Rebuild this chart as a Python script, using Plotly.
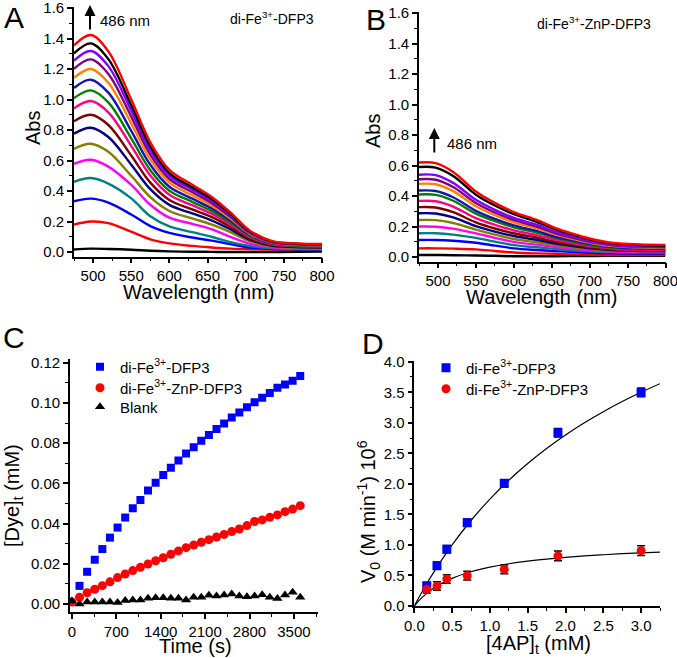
import plotly.graph_objects as go

FONT = "Liberation Sans, Arial, sans-serif"
W, H = 677, 658

# ---------------- Panel A / B : spectra ----------------
WL = [475, 497, 520, 550, 575, 600, 630, 655, 680, 705, 735, 765, 800]
SPEC_COLORS = ["#000000", "#FF0000", "#0000FF", "#008080", "#FF00FF", "#808000",
               "#000080", "#800000", "#FF0080", "#008000", "#1515B0", "#FF8000",
               "#800080", "#8000FF", "#000000", "#FF0000"]

A_c01 = [0.017, 0.022, 0.020, 0.015, 0.008, 0.004, 0.002, 0.001, 0.000, 0.000, 0.000, 0.002, 0.003]
A_c02 = [0.18, 0.20, 0.19, 0.133, 0.083, 0.057, 0.04, 0.03, 0.022, 0.018, 0.016, 0.015, 0.015]
A_c03 = [0.333, 0.35, 0.324, 0.246, 0.17, 0.125, 0.095, 0.075, 0.052, 0.03, 0.02, 0.017, 0.016]
A_c04 = [0.46, 0.485, 0.449, 0.352, 0.235, 0.168, 0.13, 0.10, 0.065, 0.04, 0.024, 0.02, 0.019]
A_c05 = [0.578, 0.605, 0.56, 0.44, 0.31, 0.225, 0.185, 0.15, 0.10, 0.055, 0.03, 0.024, 0.022]
A_c06 = [0.676, 0.71, 0.657, 0.50, 0.36, 0.269, 0.22, 0.181, 0.13, 0.071, 0.036, 0.028, 0.026]
A_c07 = [0.776, 0.815, 0.754, 0.573, 0.412, 0.309, 0.253, 0.208, 0.149, 0.082, 0.041, 0.033, 0.030]
A_c08 = [0.857, 0.90, 0.833, 0.633, 0.455, 0.341, 0.279, 0.23, 0.165, 0.09, 0.045, 0.036, 0.033]
A_c09 = [0.942, 0.99, 0.916, 0.696, 0.501, 0.375, 0.307, 0.252, 0.181, 0.099, 0.05, 0.04, 0.037]
A_c10 = [1.009, 1.06, 0.981, 0.745, 0.536, 0.402, 0.329, 0.27, 0.194, 0.106, 0.053, 0.042, 0.039]
A_c11 = [1.076, 1.13, 1.045, 0.794, 0.572, 0.428, 0.35, 0.288, 0.207, 0.113, 0.057, 0.045, 0.042]
A_c12 = [1.142, 1.20, 1.11, 0.844, 0.607, 0.455, 0.372, 0.306, 0.22, 0.12, 0.06, 0.048, 0.044]
A_c13 = [1.202, 1.263, 1.168, 0.888, 0.639, 0.479, 0.392, 0.322, 0.231, 0.126, 0.063, 0.051, 0.047]
A_c14 = [1.255, 1.318, 1.219, 0.927, 0.667, 0.50, 0.409, 0.336, 0.241, 0.132, 0.066, 0.053, 0.049]
A_c15 = [1.302, 1.368, 1.265, 0.962, 0.692, 0.518, 0.424, 0.349, 0.25, 0.137, 0.068, 0.055, 0.051]
A_c16 = [1.355, 1.423, 1.316, 1.0, 0.72, 0.539, 0.441, 0.363, 0.26, 0.142, 0.071, 0.057, 0.053]
A_SPECTRA = [A_c01, A_c02, A_c03, A_c04, A_c05, A_c06, A_c07, A_c08,
             A_c09, A_c10, A_c11, A_c12, A_c13, A_c14, A_c15, A_c16]

B_c01 = [0.013, 0.013, 0.012, 0.010, 0.008, 0.005, 0.005, 0.005, 0.006, 0.007, 0.008, 0.008, 0.008]
B_c02 = [0.057, 0.057, 0.055, 0.05, 0.04, 0.03, 0.024, 0.021, 0.017, 0.015, 0.013, 0.013, 0.013]
B_c03 = [0.112, 0.112, 0.107, 0.094, 0.075, 0.057, 0.046, 0.039, 0.032, 0.027, 0.024, 0.023, 0.022]
B_c04 = [0.156, 0.156, 0.147, 0.126, 0.101, 0.078, 0.064, 0.053, 0.043, 0.036, 0.031, 0.029, 0.029]
B_c05 = [0.20, 0.199, 0.186, 0.155, 0.126, 0.099, 0.081, 0.066, 0.053, 0.043, 0.036, 0.034, 0.034]
B_c06 = [0.243, 0.242, 0.223, 0.180, 0.147, 0.118, 0.097, 0.078, 0.062, 0.050, 0.041, 0.038, 0.037]
B_c07 = [0.287, 0.285, 0.26, 0.203, 0.167, 0.138, 0.113, 0.089, 0.071, 0.055, 0.044, 0.040, 0.039]
B_c08 = [0.327, 0.325, 0.294, 0.227, 0.187, 0.156, 0.128, 0.10, 0.079, 0.06, 0.047, 0.044, 0.042]
B_c09 = [0.368, 0.366, 0.331, 0.255, 0.211, 0.175, 0.144, 0.113, 0.089, 0.068, 0.053, 0.049, 0.047]
B_c10 = [0.41, 0.408, 0.369, 0.285, 0.235, 0.195, 0.161, 0.125, 0.099, 0.076, 0.059, 0.055, 0.053]
B_c11 = [0.436, 0.433, 0.392, 0.303, 0.25, 0.208, 0.171, 0.133, 0.106, 0.081, 0.063, 0.058, 0.056]
B_c12 = [0.48, 0.477, 0.432, 0.333, 0.275, 0.228, 0.188, 0.147, 0.116, 0.089, 0.07, 0.064, 0.062]
B_c13 = [0.51, 0.507, 0.459, 0.354, 0.292, 0.243, 0.2, 0.156, 0.123, 0.094, 0.074, 0.068, 0.066]
B_c14 = [0.54, 0.537, 0.486, 0.375, 0.309, 0.257, 0.212, 0.165, 0.131, 0.10, 0.078, 0.072, 0.07]
B_c15 = [0.59, 0.586, 0.531, 0.409, 0.338, 0.281, 0.231, 0.181, 0.143, 0.109, 0.086, 0.079, 0.076]
B_c16 = [0.62, 0.616, 0.558, 0.43, 0.355, 0.295, 0.243, 0.19, 0.15, 0.115, 0.09, 0.083, 0.08]
B_SPECTRA = [B_c01, B_c02, B_c03, B_c04, B_c05, B_c06, B_c07, B_c08,
             B_c09, B_c10, B_c11, B_c12, B_c13, B_c14, B_c15, B_c16]

# ---------------- Panel C : dye vs time ----------------
T_BLUE = [120, 240, 360, 480, 600, 720, 840, 960, 1080, 1200, 1320, 1440, 1560, 1680, 1800,
          1920, 2040, 2160, 2280, 2400, 2520, 2640, 2760, 2880, 3000, 3120, 3240, 3360, 3480, 3600]
DYE_FE = [0.009, 0.016, 0.022, 0.0273, 0.033, 0.038, 0.043, 0.0476, 0.0517, 0.0564, 0.0603,
          0.0641, 0.0678, 0.0713, 0.0749, 0.0779, 0.0812, 0.084, 0.087, 0.0898, 0.0927, 0.0953,
          0.0978, 0.1003, 0.1026, 0.105, 0.1076, 0.1092, 0.111, 0.1134]
T_ALL = [0, 120, 240, 360, 480, 600, 720, 840, 960, 1080, 1200, 1320, 1440, 1560, 1680, 1800,
         1920, 2040, 2160, 2280, 2400, 2520, 2640, 2760, 2880, 3000, 3120, 3240, 3360, 3480, 3600]
DYE_ZNP = [0.001, 0.0033, 0.0056, 0.0073, 0.0091, 0.011, 0.0131, 0.0149, 0.0166, 0.0182, 0.0199,
           0.0215, 0.023, 0.0247, 0.0264, 0.028, 0.0293, 0.0307, 0.032, 0.0333, 0.0346, 0.036,
           0.0373, 0.039, 0.041, 0.0418, 0.0431, 0.0443, 0.0459, 0.0472, 0.0489]
DYE_BLANK = [0.0015, 0.000, 0.001, 0.001, 0.001, 0.001, 0.0007, 0.0017, 0.002, 0.002, 0.0028,
             0.0031, 0.0031, 0.0028, 0.0028, 0.002, 0.0033, 0.0033, 0.0043, 0.004, 0.0045, 0.005,
             0.004, 0.0036, 0.004, 0.0046, 0.0033, 0.0027, 0.0045, 0.0058, 0.0033]

# ---------------- Panel D : initial rate vs [4AP] ----------------
AP_CONC = [0.165, 0.30, 0.43, 0.70, 1.19, 1.90, 3.00]
V0_FE = [0.333, 0.66, 0.93, 1.364, 2.008, 2.838, 3.498]
V0_FE_ERR = [0.05, 0.06, 0.06, 0.06, 0.06, 0.07, 0.07]
V0_ZNP = [0.273, 0.327, 0.442, 0.497, 0.60, 0.819, 0.906]
V0_ZNP_ERR = [0.06, 0.07, 0.07, 0.07, 0.07, 0.08, 0.08]
FIT_X = [0.0, 0.1, 0.25, 0.5, 0.75, 1.0, 1.25, 1.5, 1.75, 2.0, 2.25, 2.5, 2.75, 3.0, 3.25]
FIT_FE = [0.0, 0.226, 0.538, 1.0, 1.4, 1.75, 2.059, 2.333, 2.579, 2.8, 3.0, 3.182, 3.348, 3.5, 3.64]
FIT_ZNP = [0.0, 0.137, 0.288, 0.453, 0.561, 0.636, 0.692, 0.735, 0.769, 0.797, 0.820, 0.839,
           0.856, 0.870, 0.882]


def px_x(p):
    return p / W


def px_y(p):
    return 1 - p / H


fig = go.Figure()

for spectrum, col in zip(A_SPECTRA, SPEC_COLORS):
    fig.add_trace(go.Scatter(x=WL, y=spectrum, mode="lines", xaxis="x", yaxis="y",
                             line=dict(color=col, width=2.4, shape="spline", smoothing=1.0),
                             showlegend=False, hoverinfo="skip"))
for spectrum, col in zip(B_SPECTRA, SPEC_COLORS):
    fig.add_trace(go.Scatter(x=WL, y=spectrum, mode="lines", xaxis="x2", yaxis="y2",
                             line=dict(color=col, width=2.4, shape="spline", smoothing=1.0),
                             showlegend=False, hoverinfo="skip"))

fig.add_trace(go.Scatter(x=T_BLUE, y=DYE_FE, mode="markers", xaxis="x3", yaxis="y3",
                         name="di-Fe<sup>3+</sup>-DFP3", legend="legend2",
                         marker=dict(symbol="square", size=8, color="#0000FF")))
fig.add_trace(go.Scatter(x=T_ALL, y=DYE_ZNP, mode="markers", xaxis="x3", yaxis="y3",
                         name="di-Fe<sup>3+</sup>-ZnP-DFP3", legend="legend3",
                         marker=dict(symbol="circle", size=9, color="#FF0000")))
fig.add_trace(go.Scatter(x=T_ALL, y=DYE_BLANK, mode="markers", xaxis="x3", yaxis="y3",
                         name="Blank", legend="legend4",
                         marker=dict(symbol="triangle-up", size=9, color="#000000")))

fig.add_trace(go.Scatter(x=FIT_X, y=FIT_FE, mode="lines", xaxis="x4", yaxis="y4",
                         line=dict(color="black", width=1.2, shape="spline"),
                         showlegend=False, hoverinfo="skip"))
fig.add_trace(go.Scatter(x=FIT_X, y=FIT_ZNP, mode="lines", xaxis="x4", yaxis="y4",
                         line=dict(color="black", width=1.2, shape="spline"),
                         showlegend=False, hoverinfo="skip"))
fig.add_trace(go.Scatter(x=AP_CONC, y=V0_FE, mode="markers", xaxis="x4", yaxis="y4",
                         name="di-Fe<sup>3+</sup>-DFP3", legend="legend5",
                         error_y=dict(type="data", array=V0_FE_ERR, color="black",
                                      thickness=1.5, width=4),
                         marker=dict(symbol="square", size=9, color="#0000FF")))
fig.add_trace(go.Scatter(x=AP_CONC, y=V0_ZNP, mode="markers", xaxis="x4", yaxis="y4",
                         name="di-Fe<sup>3+</sup>-ZnP-DFP3", legend="legend6",
                         error_y=dict(type="data", array=V0_ZNP_ERR, color="black",
                                      thickness=1.5, width=4),
                         marker=dict(symbol="circle", size=9, color="#FF0000")))


def axis(domain, rng, dtick, minor_dtick, fmt, anchor, tick0=0):
    return dict(domain=domain, range=rng, anchor=anchor, tickmode="linear", tick0=tick0,
                dtick=dtick, tickformat=fmt, showline=True, linecolor="black", linewidth=1.6,
                ticks="outside", ticklen=5, tickwidth=1.5, tickcolor="black",
                showgrid=False, zeroline=False, automargin=False, ticklabeloverflow="allow",
                tickfont=dict(family=FONT, size=15, color="black"),
                minor=dict(ticks="outside", ticklen=3, tickwidth=1.3, tickcolor="black",
                           dtick=minor_dtick, tick0=tick0, showgrid=False))


def legend_at(x, y):
    return dict(x=px_x(x), y=px_y(y), xanchor="left", yanchor="middle",
                bgcolor="rgba(0,0,0,0)", borderwidth=0,
                font=dict(family=FONT, size=15, color="black"))


layout = dict(
    width=W, height=H, margin=dict(l=0, r=0, t=0, b=0, autoexpand=False),
    paper_bgcolor="white", plot_bgcolor="white",
    font=dict(family=FONT, color="black"),
    xaxis=axis([px_x(74), px_x(322)], [475, 800], 50, 25, "d", "y"),
    yaxis=axis([px_y(256.6), px_y(6.5)], [-0.03, 1.61], 0.2, 0.1, ".1f", "x"),
    xaxis2=axis([px_x(419), px_x(665.5)], [475, 800], 50, 25, "d", "y2"),
    yaxis2=axis([px_y(261.6), px_y(11.5)], [-0.03, 1.61], 0.2, 0.1, ".1f", "x2"),
    xaxis3=axis([px_x(70), px_x(318)], [-30, 3880], 700, 350, "d", "y3"),
    yaxis3=axis([px_y(612), px_y(358.7)], [-0.004, 0.122], 0.02, 0.01, ".2f", "x3"),
    xaxis4=axis([px_x(414.3), px_x(660)], [0, 3.25], 0.5, 0.25, ".1f", "y4"),
    yaxis4=axis([px_y(606), px_y(360.5)], [0, 4.02], 0.5, 0.25, ".1f", "x4"),
    legend2=legend_at(80, 367),
    legend3=legend_at(80, 388),
    legend4=legend_at(80, 407),
    legend5=legend_at(426, 368),
    legend6=legend_at(426, 389),
)

ann = []


def text(x, y, s, size, xanchor="center", angle=0):
    ann.append(dict(x=px_x(x), y=px_y(y), xref="paper", yref="paper", text=s,
                    showarrow=False, xanchor=xanchor, yanchor="middle", textangle=angle,
                    font=dict(family=FONT, size=size, color="black")))


# panel letters
text(14, 17, "A", 30)
text(376, 20, "B", 30)
text(14, 337, "C", 30)
text(373, 343, "D", 30)

# axis titles
text(33, 128, "Abs", 20, angle=-90)
text(199, 292, "Wavelength (nm)", 20)
text(373, 131, "Abs", 20, angle=-90)
text(542, 297, "Wavelength (nm)", 20)
text(13, 496, "[Dye]<sub>t</sub> (mM)", 20, angle=-90)
text(195, 646, "Time (s)", 20)
text(368, 512, "V<sub>0</sub> (M min<sup>-1</sup>) 10<sup>6</sup>", 20, angle=-90)
text(538, 644, "[4AP]<sub>t</sub> (mM)", 20)

# panel titles
text(228, 18, "di-Fe<sup>3+</sup>-DFP3", 14, xanchor="left")
text(535, 23, "di-Fe<sup>3+</sup>-ZnP-DFP3", 14, xanchor="left")

# 486 nm arrows
text(98, 21, "486 nm", 15, xanchor="left")
text(445, 143, "486 nm", 15, xanchor="left")
for ax_x, top, tail in [(90, 5, 31), (434.3, 128, 154)]:
    ann.append(dict(x=px_x(ax_x), y=px_y(top), xref="paper", yref="paper", text="",
                    showarrow=True, ax=0, ay=tail - top, axref="pixel", ayref="pixel",
                    arrowhead=2, arrowsize=1.1, arrowwidth=2, arrowcolor="black"))

layout["annotations"] = ann
fig.update_layout(**layout)
fig.write_html("out.html", config={"displayModeBar": False},
               post_script="document.body.style.margin='0';document.body.style.overflow='hidden';")
